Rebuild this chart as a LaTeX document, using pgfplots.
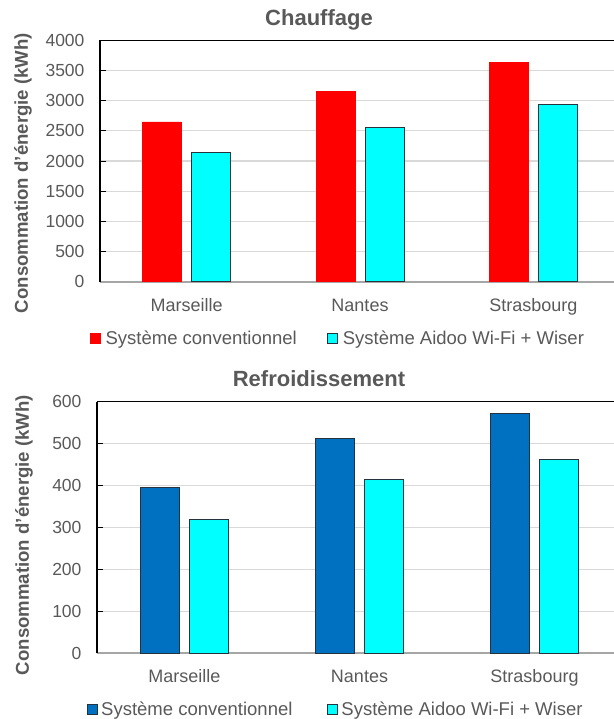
\documentclass[border=0pt]{standalone}
\usepackage{pgfplots}
\pgfplotsset{compat=1.18}
\usepackage{fontspec}
\setmainfont{Liberation Sans}

\definecolor{txt}{HTML}{595959}
\definecolor{gridc}{HTML}{D9D9D9}
\definecolor{axgray}{HTML}{A6A6A6}
\definecolor{rouge}{HTML}{FF0000}
\definecolor{cyanb}{HTML}{00FFFF}
\definecolor{bleu}{HTML}{0070C0}
\definecolor{edge}{HTML}{26323C}

\pgfplotsset{
  chart/.style={
    scale only axis, ybar, clip=false,
    xmin=-0.5, xmax=2.5, ymin=0,
    xtick={0,1,2}, xticklabels={Marseille,Nantes,Strasbourg},
    x tick style={draw=none},
    xticklabel style={anchor=base, yshift=-29.5pt, text=txt,
      font=\fontsize{18}{20}\selectfont},
    yticklabel style={text=txt, xshift=-12pt,
      font=\fontsize{17.5}{20}\selectfont},
    /pgf/number format/assume math mode=true,
    /pgf/number format/1000 sep={},
    scaled y ticks=false,
    ymajorgrids, grid style={draw=gridc, line width=1.2pt},
    axis x line*=bottom, axis y line*=left,
    x axis line style={draw=axgray, line width=2pt},
    y axis line style={draw=black, line width=1.5pt},
    y tick style={draw=black, line width=1pt},
    tick align=inside, major tick length=6pt,
    bar width=39pt,
    legend columns=2,
    legend style={draw=none, fill=none, inner sep=0pt,
      at={(0,0)}, anchor=west,
      nodes={inner sep=0pt, anchor=west, text=txt,
        font=\fontsize{18.5}{20}\selectfont}},
    legend image code/.code={\fill[##1] (0pt,-5pt) rectangle (10pt,5pt);},
  },
}

\begin{document}
\begin{tikzpicture}

\node[anchor=base, text=txt, font=\bfseries\fontsize{22}{24}\selectfont]
  at (319pt,-26pt) {Chauffage};
\node[rotate=90, text=txt, font=\bfseries\fontsize{18.6}{20}\selectfont]
  at (23pt,-173pt) {Consommation d’énergie (kWh)};

\begin{axis}[chart,
  at={(100pt,-281.5pt)}, anchor=south west,
  width=520pt, height=241pt,
  ymax=4000, ytick distance=500,
  legend style={xshift=-10pt, yshift=-56.5pt,
    /tikz/every odd column/.append style={column sep=5pt},
    /tikz/every even column/.append style={column sep=30pt}},
]
\addplot[fill=rouge, draw=rouge, bar shift=-24.5pt]
  coordinates {(0,2650) (1,3160) (2,3635)};
\addplot[fill=cyanb, draw=edge, line width=1pt, bar shift=24.5pt]
  coordinates {(0,2145) (1,2550) (2,2935)};
\draw[black, line width=1.5pt] (rel axis cs:0,1) -- (rel axis cs:1,1);
\legend{Système conventionnel, Système Aidoo Wi-Fi + Wiser}
\end{axis}

\node[anchor=base, text=txt, font=\bfseries\fontsize{22}{24}\selectfont]
  at (319pt,-386pt) {Refroidissement};
\node[rotate=90, text=txt, font=\bfseries\fontsize{18.6}{20}\selectfont]
  at (24pt,-535pt) {Consommation d’énergie (kWh)};

\begin{axis}[chart,
  at={(97pt,-653.3pt)}, anchor=south west,
  width=525pt, height=251.6pt,
  ymax=600, ytick distance=100,
  legend style={xshift=-10pt, yshift=-56.2pt,
    /tikz/every odd column/.append style={column sep=3pt},
    /tikz/every even column/.append style={column sep=35pt}},
]
\addplot[fill=bleu, draw=edge, line width=1pt, bar shift=-24.5pt]
  coordinates {(0,395) (1,512) (2,572)};
\addplot[fill=cyanb, draw=edge, line width=1pt, bar shift=24.5pt]
  coordinates {(0,320) (1,414) (2,463)};
\draw[black, line width=1.5pt] (rel axis cs:0,1) -- (rel axis cs:1,1);
\legend{Système conventionnel, Système Aidoo Wi-Fi + Wiser}
\end{axis}

\pgfresetboundingbox
\useasboundingbox (0,0) rectangle (613pt,-719pt);
\end{tikzpicture}
\end{document}
